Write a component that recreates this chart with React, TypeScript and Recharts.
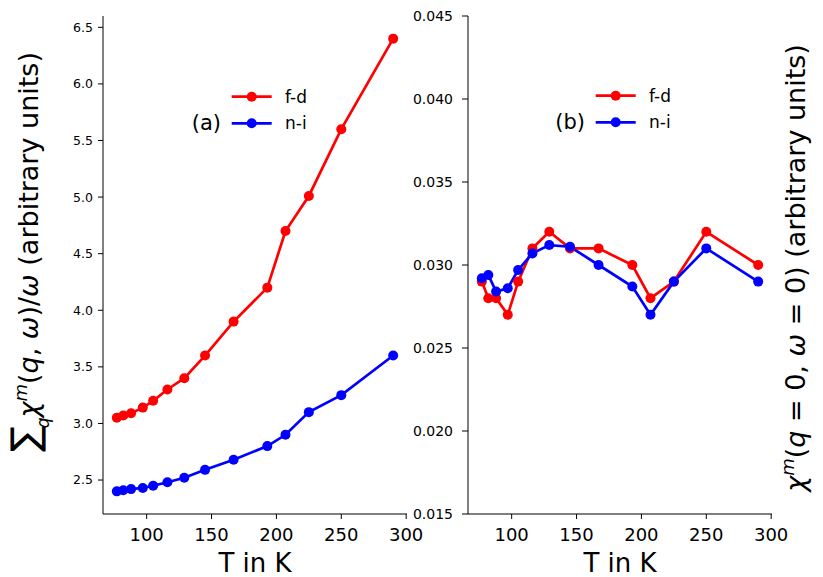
import React from "react";
import { LineChart, Line, XAxis, YAxis, Legend } from "recharts";

// temperatures (K) and the two series of each panel
const temps = [77, 82, 88, 97, 105, 116, 129, 145, 167, 193, 207, 225, 250, 290];
const sumFd = [3.05, 3.07, 3.09, 3.14, 3.2, 3.3, 3.4, 3.6, 3.9, 4.2, 4.7, 5.01, 5.6, 6.4];
const sumNi = [2.4, 2.41, 2.42, 2.43, 2.45, 2.48, 2.52, 2.59, 2.68, 2.8, 2.9, 3.1, 3.25, 3.6];
const chiFd = [0.029, 0.028, 0.028, 0.027, 0.029, 0.031, 0.032, 0.031, 0.031, 0.03, 0.028, 0.029, 0.032, 0.03];
const chiNi = [0.0292, 0.0294, 0.0284, 0.0286, 0.0297, 0.0307, 0.0312, 0.0311, 0.03, 0.0287, 0.027, 0.029, 0.031, 0.029];

const xTicks = [100, 150, 200, 250, 300];
const leftTicks = [2.5, 3, 3.5, 4, 4.5, 5, 5.5, 6, 6.5];
const rightTicks = [0.015, 0.02, 0.025, 0.03, 0.035, 0.04, 0.045];

const leftData = temps.map((t, i) => ({ T: t, fd: sumFd[i], ni: sumNi[i] }));
const rightData = temps.map((t, i) => ({ T: t, fd: chiFd[i], ni: chiNi[i] }));

const FONT = "DejaVu Sans";
const xDomain = [66.35, 300.65];

const makeLegend = (tag: string) => (props: any) => {
  const items = props.payload || [];
  return (
    <svg width={130} height={60} style={{ fontFamily: FONT }}>
      <text x={31} y={43.3} fontSize={21} textAnchor="end" dominantBaseline="central">
        {tag}
      </text>
      {items.map((it: any, i: number) => {
        const y = 16.7 + i * 26.6;
        return (
          <g key={i}>
            <line x1={41.7} x2={81.7} y1={y} y2={y} stroke={it.color} strokeWidth={2.7} />
            <circle cx={61.7} cy={y} r={5} fill={it.color} />
            <text x={95} y={y} fontSize={17} dominantBaseline="central">
              {it.value}
            </text>
          </g>
        );
      })}
    </svg>
  );
};

const axisLine = { stroke: "#000", strokeWidth: 1 };

export default function App() {
  return (
    <div
      style={{
        position: "absolute",
        left: 0,
        top: 0,
        width: 823,
        height: 577,
        background: "#fff",
        fontFamily: FONT,
      }}
    >
      {/* panel (a) */}
      <div style={{ position: "absolute", left: 0, top: 0 }}>
        <LineChart width={440} height={577} data={leftData} margin={{ top: 16, right: 33, left: 0, bottom: 0 }}>
          <XAxis
            dataKey="T"
            type="number"
            domain={xDomain}
            ticks={xTicks}
            allowDataOverflow
            height={63}
            tickSize={5}
            tickMargin={9}
            axisLine={axisLine}
            tickLine={{ stroke: "#000" }}
            tick={{ fill: "#000", fontSize: 18, fontFamily: FONT }}
          />
          <XAxis xAxisId="top" dataKey="T" type="number" domain={xDomain} orientation="top" height={0} tick={false} tickLine={false} axisLine={axisLine} />
          <YAxis
            type="number"
            domain={[2.2, 6.6]}
            ticks={leftTicks}
            allowDataOverflow
            width={103}
            tickSize={5}
            tickMargin={5}
            tickFormatter={(v: number) => v.toFixed(1)}
            axisLine={axisLine}
            tickLine={{ stroke: "#000" }}
            tick={{ fill: "#000", fontSize: 12.5, fontFamily: FONT }}
          />
          <YAxis yAxisId="r" orientation="right" domain={[2.2, 6.6]} width={0} tick={false} tickLine={false} axisLine={axisLine} />
          <Legend
            layout="vertical"
            align="center"
            verticalAlign="middle"
            content={makeLegend("(a)")}
            wrapperStyle={{ left: 190, top: 80, width: 130, height: 60 }}
          />
          <Line dataKey="fd" name="f-d" stroke="#ff0000" strokeWidth={2.7} dot={{ r: 5, fill: "#ff0000", stroke: "none" }} isAnimationActive={false} />
          <Line dataKey="ni" name="n-i" stroke="#0000ff" strokeWidth={2.7} dot={{ r: 5, fill: "#0000ff", stroke: "none" }} isAnimationActive={false} />
        </LineChart>
      </div>

      {/* panel (b) */}
      <div style={{ position: "absolute", left: 408, top: 0 }}>
        <LineChart width={415} height={577} data={rightData} margin={{ top: 16, right: 51, left: 0, bottom: 0 }}>
          <XAxis
            dataKey="T"
            type="number"
            domain={xDomain}
            ticks={xTicks}
            allowDataOverflow
            height={63}
            tickSize={5}
            tickMargin={9}
            axisLine={axisLine}
            tickLine={{ stroke: "#000" }}
            tick={{ fill: "#000", fontSize: 18, fontFamily: FONT }}
          />
          <XAxis xAxisId="top" dataKey="T" type="number" domain={xDomain} orientation="top" height={0} tick={false} tickLine={false} axisLine={axisLine} />
          <YAxis
            type="number"
            domain={[0.015, 0.045]}
            ticks={rightTicks}
            allowDataOverflow
            width={60}
            tickSize={6}
            tickMargin={9}
            tickFormatter={(v: number) => v.toFixed(3)}
            axisLine={axisLine}
            tickLine={{ stroke: "#000" }}
            tick={{ fill: "#000", fontSize: 14, fontFamily: FONT }}
          />
          <YAxis yAxisId="r" orientation="right" domain={[0.015, 0.045]} width={0} tick={false} tickLine={false} axisLine={axisLine} />
          <Legend
            layout="vertical"
            align="center"
            verticalAlign="middle"
            content={makeLegend("(b)")}
            wrapperStyle={{ left: 146, top: 79, width: 130, height: 60 }}
          />
          <Line dataKey="fd" name="f-d" stroke="#ff0000" strokeWidth={2.7} dot={{ r: 5, fill: "#ff0000", stroke: "none" }} isAnimationActive={false} />
          <Line dataKey="ni" name="n-i" stroke="#0000ff" strokeWidth={2.7} dot={{ r: 5, fill: "#0000ff", stroke: "none" }} isAnimationActive={false} />
        </LineChart>
      </div>

      {/* axis titles */}
      <svg
        width={823}
        height={577}
        style={{ position: "absolute", left: 0, top: 0, pointerEvents: "none", fontFamily: FONT }}
      >
        <text x={255} y={572} fontSize={26} textAnchor="middle">T in K</text>
        <text x={620} y={572} fontSize={26} textAnchor="middle">T in K</text>
        <text transform="translate(38,252) rotate(-90)" fontSize={27} textAnchor="middle">
          <tspan fontSize={38}>∑</tspan>
          <tspan dy={11} dx={-2} fontSize={17} fontStyle="italic">q</tspan>
          <tspan dy={-11} fontStyle="italic">χ</tspan>
          <tspan dy={-11} fontSize={18} fontStyle="italic">m</tspan>
          <tspan dy={11}>(</tspan>
          <tspan fontStyle="italic">q</tspan>
          <tspan>, </tspan>
          <tspan fontStyle="italic">ω</tspan>
          <tspan>)/</tspan>
          <tspan fontStyle="italic">ω</tspan>
          <tspan> (arbitrary units)</tspan>
        </text>
        <text transform="translate(805,268) rotate(-90)" fontSize={27} textAnchor="middle">
          <tspan fontStyle="italic">χ</tspan>
          <tspan dy={-11} fontSize={18} fontStyle="italic">m</tspan>
          <tspan dy={11}>(</tspan>
          <tspan fontStyle="italic">q</tspan>
          <tspan> = 0, </tspan>
          <tspan fontStyle="italic">ω</tspan>
          <tspan> = 0) (arbitrary units)</tspan>
        </text>
      </svg>
    </div>
  );
}
